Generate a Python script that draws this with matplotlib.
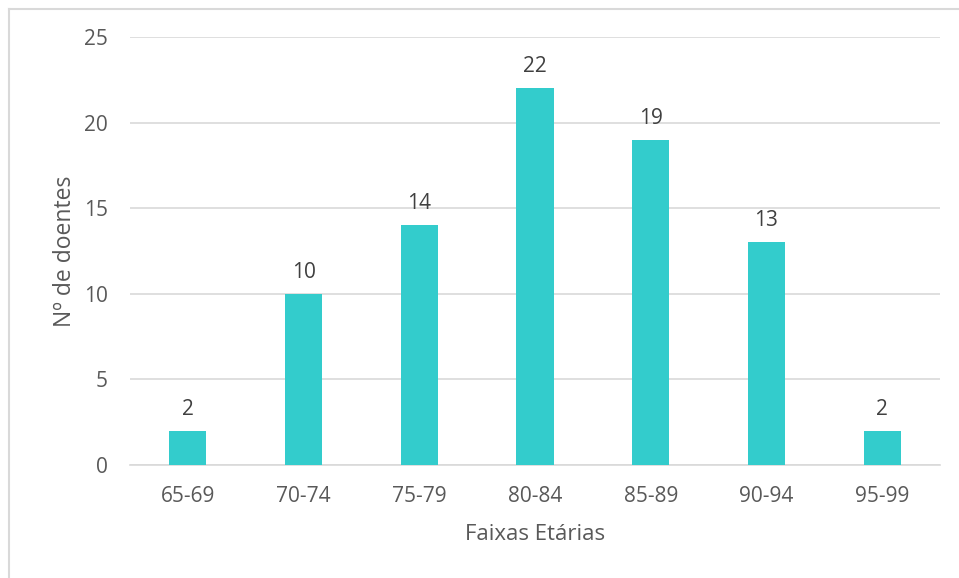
import matplotlib.pyplot as plt
from matplotlib.lines import Line2D

plt.rcParams['font.family'] = ['Open Sans', 'DejaVu Sans']

faixas = ['65-69', '70-74', '75-79', '80-84', '85-89', '90-94', '95-99']
doentes = [2, 10, 14, 22, 19, 13, 2]

W, H = 959, 578
fig = plt.figure(figsize=(W / 100, H / 100), dpi=100)
ax = fig.add_axes([130 / W, 1 - 465 / H, 810 / W, (465 - 37) / H])

x = list(range(len(faixas)))
bars = ax.bar(x, doentes, width=0.32, color='#33CCCC', zorder=3)

for xi, v in zip(x, doentes):
    ax.annotate(str(v), (xi, v), xytext=(0, 8), textcoords='offset points',
                ha='center', va='bottom', fontsize=15, color='#404040')

ax.set_xlim(-0.5, len(faixas) - 0.5)
ax.set_ylim(0, 25)
ax.set_yticks([0, 5, 10, 15, 20, 25])
ax.set_xticks(x)
ax.set_xticklabels(faixas)
ax.yaxis.grid(True, color='#d9d9d9', lw=1.2, zorder=0)
ax.tick_params(length=0, labelsize=15, labelcolor='#595959')
ax.tick_params(axis='x', pad=15)
ax.tick_params(axis='y', pad=16)
for s in ['top', 'right', 'left']:
    ax.spines[s].set_visible(False)
ax.spines['bottom'].set_color('#d9d9d9')
ax.spines['bottom'].set_linewidth(1.2)

ax.set_xlabel('Faixas Etárias', fontsize=16, color='#595959', labelpad=12)
ax.set_ylabel('Nº de doentes', fontsize=16.5, color='#595959', labelpad=5)

# outer chart border
fig.add_artist(Line2D([9 / W, 1], [1 - 8.5 / H, 1 - 8.5 / H], color='#d9d9d9', lw=1.5))
fig.add_artist(Line2D([9 / W, 9 / W], [0, 1 - 8.5 / H], color='#d9d9d9', lw=1.5))

fig.savefig('out.png', dpi=100)
